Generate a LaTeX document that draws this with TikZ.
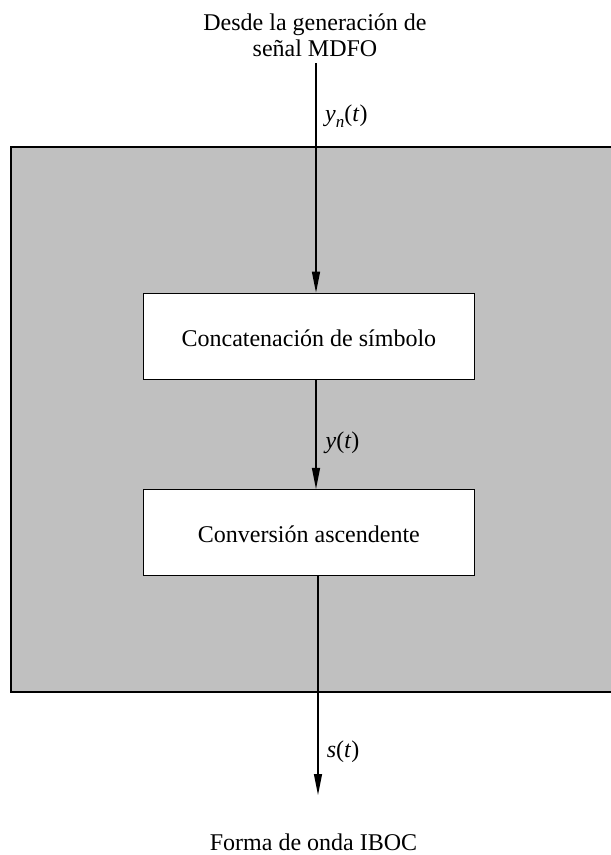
\documentclass[tikz,border=0pt]{standalone}
\usepackage{fontspec}
\setmainfont{Liberation Serif}
\usetikzlibrary{arrows.meta}
\definecolor{panelgray}{RGB}{192,192,192}
\begin{document}
\begin{tikzpicture}[x=1pt,y=-1pt,
  txt/.style={font=\fontsize{24}{26.5}\selectfont, inner sep=0pt},
  blockbox/.style={draw=black, line width=1.3pt, fill=white, minimum width=331pt,
    minimum height=86pt, inner sep=0pt, text height=20pt, text depth=0pt,
    font=\fontsize{24}{26}\selectfont},
  panel/.style={draw=black, line width=1.5pt, fill=panelgray},
  sig/.style={line width=1.3pt, -{Triangle[length=21pt,width=8pt]}},
  lbl/.style={txt, anchor=base west}]
\useasboundingbox (0,0) rectangle (611,855);
\clip (0,0) rectangle (611,855);
% panel
\draw[panel] (11,147) rectangle (620,692);
% text and blocks
\node[txt, align=center, anchor=north] (src) at (315,13.5) {Desde la generación de\\señal MDFO};
\coordinate (start) at (316,63);
\node[blockbox] (concat) at (308.9,336.3) {Concatenación de símbolo};
\node[blockbox] (upconv) at (308.9,532.6) {Conversión ascendente};
\coordinate (outx) at (318,577);
\coordinate (stop) at (318,795);
\node[txt, anchor=base] (dest) at (313.5,850) {Forma de onda IBOC};
% connectors
\draw[sig] (start) -- (start |- concat.north);
\draw[sig] (start |- concat.south) -- (start |- upconv.north);
\draw[sig] (outx |- upconv.south) -- (stop);
% labels
\node[lbl] (lyn) at (325,121) {\textit{y}\raisebox{-0.28em}{\fontsize{17}{17}\selectfont\textit{n}}(\textit{t})};
\node[lbl] (ly) at (325.4,448) {\textit{y}(\textit{t})};
\node[lbl] (ls) at (326.7,757) {\textit{s}(\textit{t})};
\end{tikzpicture}
\end{document}
